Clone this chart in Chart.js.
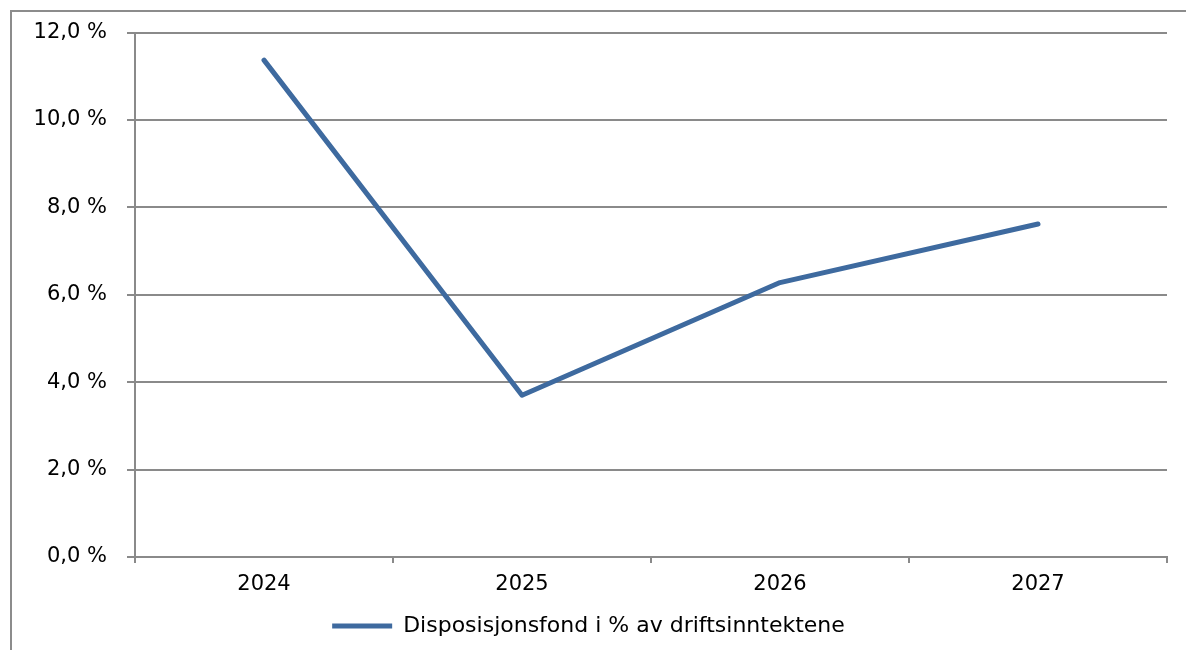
<!DOCTYPE html>
<html>
<head>
<meta charset="utf-8">
<script src="https://cdn.jsdelivr.net/npm/chart.js@4.4.1/dist/chart.umd.min.js"></script>
<style>
  html, body { margin: 0; padding: 0; background: #fff; overflow: hidden; }
  #wrap { position: relative; width: 1186px; height: 650px; }
  #frame { position: absolute; left: 10px; top: 10px; width: 1300px; height: 800px;
           border: 2px solid #8c8c8c; box-sizing: border-box; }
  #myChart { position: absolute; left: 0; top: 0; }
</style>
</head>
<body>
<div id="wrap">
  <div id="frame"></div>
  <canvas id="myChart" width="1186" height="650"></canvas>
</div>
<script>
// ── Data ──────────────────────────────────────────────────────────────────────
var years       = ['2024', '2025', '2026', '2027'];
var fondPercent = [11.37, 3.7, 6.28, 7.62];
var seriesName  = 'Disposisjonsfond i % av driftsinntektene';
var yTicks      = [0, 2, 4, 6, 8, 10, 12];

var fontFamily = '"DejaVu Sans", sans-serif';
var gridGray   = '#8a8a8a';

var ctx = document.getElementById('myChart').getContext('2d');
var myChart = new Chart(ctx, {
  type: 'line',
  data: {
    labels: years,
    datasets: [{
      label: seriesName,
      data: fondPercent,
      borderColor: '#3E6A9F',
      backgroundColor: '#3E6A9F',
      borderWidth: 5,
      borderCapStyle: 'round',
      borderJoinStyle: 'round',
      pointRadius: 0,
      tension: 0
    }]
  },
  options: {
    responsive: false,
    animation: false,
    layout: { padding: { top: 32, right: 19, left: 10, bottom: 3 } },
    scales: {
      x: {
        offset: true,
        grid: { offset: true, drawOnChartArea: false, color: gridGray, lineWidth: 2, tickLength: 6 },
        border: { color: gridGray, width: 2 },
        ticks: { color: '#000', padding: 9, font: { family: fontFamily, size: 21 } },
        afterFit: function (scale) { scale.height = 47; }
      },
      y: {
        min: 0,
        max: 12,
        afterBuildTicks: function (scale) {
          scale.ticks = yTicks.map(function (v) { return { value: v }; });
        },
        grid: { color: gridGray, lineWidth: 2, tickLength: 8 },
        border: { color: gridGray, width: 2 },
        ticks: {
          color: '#000',
          padding: 20,
          font: { family: fontFamily, size: 21 },
          callback: function (v) { return v.toFixed(1).replace('.', ',') + ' %'; }
        },
        afterFit: function (scale) { scale.width = 125; }
      }
    },
    plugins: {
      legend: {
        position: 'bottom',
        labels: {
          usePointStyle: true,
          pointStyle: 'line',
          pointStyleWidth: 60,
          boxWidth: 60,
          color: '#000',
          padding: 11,
          font: { family: fontFamily, size: 22 }
        }
      },
      tooltip: { enabled: false }
    }
  }
});
</script>
</body>
</html>
